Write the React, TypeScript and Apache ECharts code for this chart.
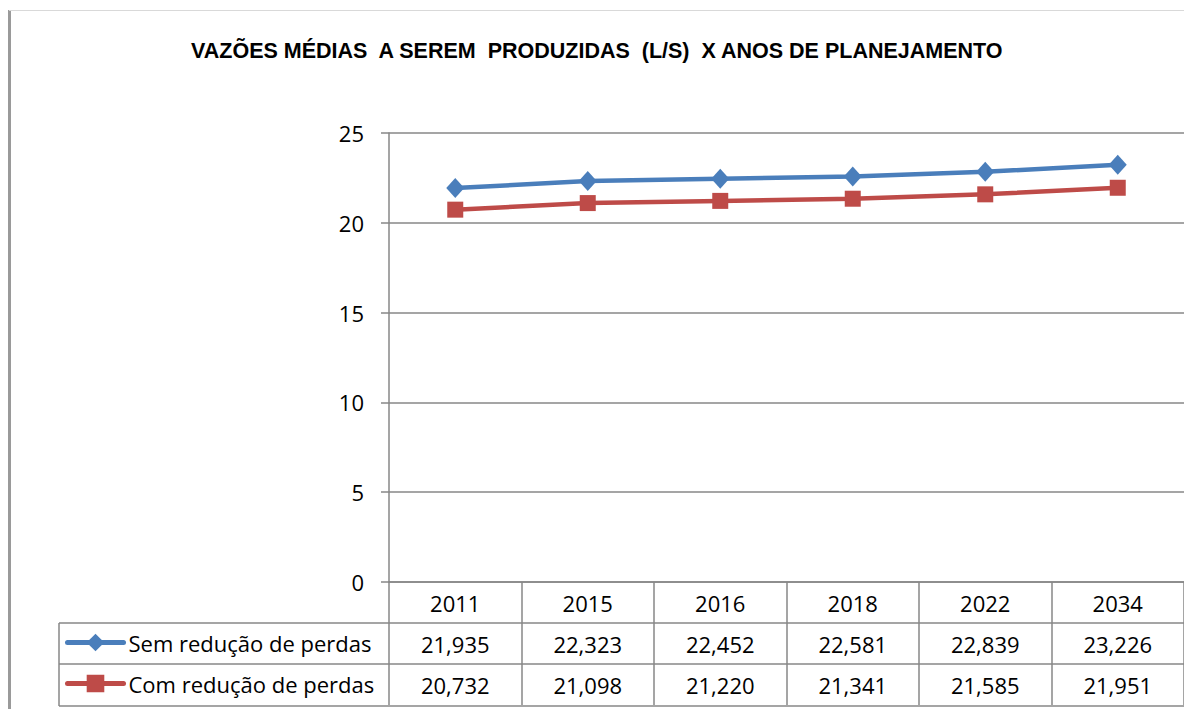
import React, { useEffect, useRef } from "react";
import * as echarts from "echarts";

const TITLE = "VAZÕES MÉDIAS  A SEREM  PRODUZIDAS  (L/S)  X ANOS DE PLANEJAMENTO";
const years = ["2011", "2015", "2016", "2018", "2022", "2034"];
const semReducao = [21.935, 22.323, 22.452, 22.581, 22.839, 23.226];
const comReducao = [20.732, 21.098, 21.22, 21.341, 21.585, 21.951];
const seriesNames = ["Sem redução de perdas", "Com redução de perdas"];
const yTicks = { min: 0, max: 25, interval: 5 };

const FONT = "'Open Sans', 'Liberation Sans', Arial, sans-serif";
const TITLE_FONT = "'Liberation Sans', Arial, sans-serif";
const GRAY = "#878787";
const BLUE = "#4A7EBB";
const RED = "#BE4B48";
const fmt = (v: number) => v.toFixed(3).replace(".", ",");

export default function App() {
  const ref = useRef<HTMLDivElement>(null);
  useEffect(() => {
    if (!ref.current) return;
    const chart = echarts.init(ref.current, null, { renderer: "svg" });
    const gridLeft = 389;
    const gridTop = 133;
    const gridBottomY = 582;
    const rowH = 41;
    chart.setOption({
      animation: false,
      backgroundColor: "#ffffff",
      textStyle: { fontFamily: FONT },
      title: {
        text: TITLE,
        left: 186,
        top: 35,
        textStyle: { fontFamily: TITLE_FONT, fontWeight: "bold", fontSize: 21.5, color: "#000" },
      },
      legend: {
        orient: "vertical",
        left: 65,
        top: 631,
        padding: 0,
        itemWidth: 56,
        itemHeight: 22,
        itemGap: 18,
        lineStyle: { width: 5, cap: "round" },
        textStyle: { fontFamily: FONT, fontSize: 22, color: "#000", lineHeight: 23 },
        data: seriesNames,
      },
      grid: {
        left: gridLeft,
        top: gridTop,
        right: -2,
        bottom: 709 - gridBottomY,
        containLabel: false,
      },
      xAxis: {
        type: "category",
        data: years,
        boundaryGap: true,
        axisLine: { show: true, lineStyle: { color: GRAY, width: 1.5 } },
        axisTick: {
          show: true,
          interval: 0,
          length: rowH * 3,
          lineStyle: { color: GRAY, width: 1.5 },
        },
        axisLabel: {
          interval: 0,
          margin: 0,
          formatter: (v: string, i: number) =>
            `{y|${v}}\n{y|${fmt(semReducao[i])}}\n{y|${fmt(comReducao[i])}}`,
          rich: {
            y: { fontFamily: FONT, fontSize: 22, color: "#000", lineHeight: rowH, height: rowH },
          },
        },
      },
      yAxis: {
        type: "value",
        min: yTicks.min,
        max: yTicks.max,
        interval: yTicks.interval,
        axisLine: { show: true, lineStyle: { color: GRAY, width: 1.5 } },
        axisTick: { show: true, length: 8, lineStyle: { color: GRAY, width: 1.5 } },
        splitLine: { show: true, lineStyle: { color: GRAY, width: 1.5 } },
        axisLabel: { margin: 25, fontFamily: FONT, fontSize: 22, color: "#000" },
      },
      series: [
        {
          name: seriesNames[0],
          type: "line",
          data: semReducao,
          symbol: "diamond",
          symbolSize: [18, 20],
          lineStyle: { color: BLUE, width: 4.5 },
          itemStyle: { color: BLUE },
        },
        {
          name: seriesNames[1],
          type: "line",
          data: comReducao,
          symbol: "rect",
          symbolSize: 16,
          lineStyle: { color: RED, width: 4.5 },
          itemStyle: { color: RED },
        },
      ],
      graphic: [
        { type: "line", shape: { x1: 9.5, y1: 10, x2: 9.5, y2: 709 }, style: { stroke: "#9a9a9a", lineWidth: 3 } },
        { type: "line", shape: { x1: 9, y1: 10.5, x2: 1184, y2: 10.5 }, style: { stroke: "#d9d9d9", lineWidth: 1 } },
        { type: "line", shape: { x1: 59, y1: 623, x2: 1184, y2: 623 }, style: { stroke: GRAY, lineWidth: 1.5 } },
        { type: "line", shape: { x1: 59, y1: 664, x2: 1184, y2: 664 }, style: { stroke: GRAY, lineWidth: 1.5 } },
        { type: "line", shape: { x1: 59, y1: 706, x2: 1184, y2: 706 }, style: { stroke: GRAY, lineWidth: 1.5 } },
        { type: "line", shape: { x1: 59, y1: 623, x2: 59, y2: 706 }, style: { stroke: GRAY, lineWidth: 1.5 } },
      ],
    });
    return () => chart.dispose();
  }, []);
  return (
    <div
      ref={ref}
      style={{ position: "absolute", left: 0, top: 0, width: 1184, height: 709, background: "#fff" }}
    />
  );
}
